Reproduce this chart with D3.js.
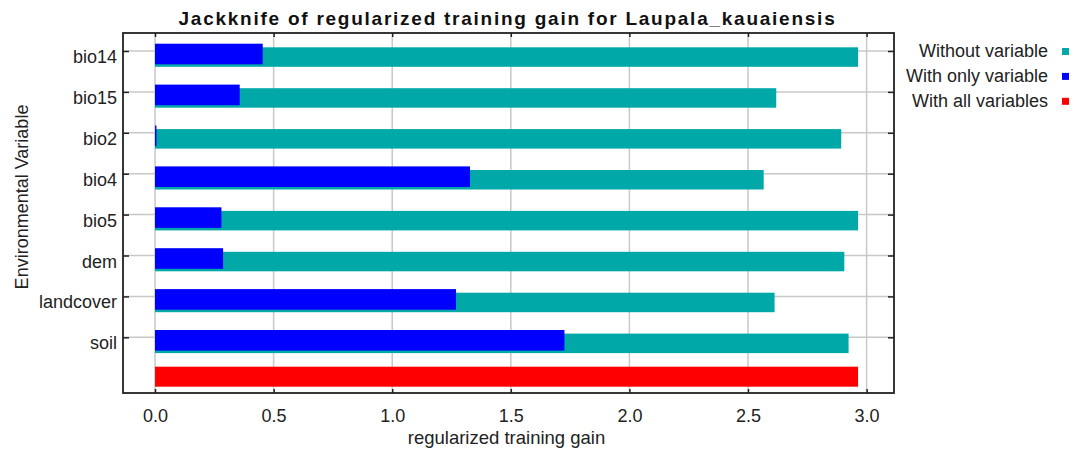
<!DOCTYPE html>
<html>
<head>
<meta charset="utf-8">
<script src="https://cdn.jsdelivr.net/npm/d3@7"></script>
<style>
  html, body { margin: 0; padding: 0; background: #fff; }
  svg { display: block; font-family: "Liberation Sans", Arial, sans-serif; }
</style>
</head>
<body>
<svg id="chart" width="1086" height="453"></svg>
<script>
// Jackknife results: regularized training gain per environmental variable
const variables = ["bio14", "bio15", "bio2", "bio4", "bio5", "dem", "landcover", "soil"];
const withoutVariable = [2.964, 2.619, 2.893, 2.566, 2.964, 2.906, 2.612, 2.924];
const withOnlyVariable = [0.454, 0.357, 0.006, 1.328, 0.280, 0.287, 1.269, 1.726];
const withAllVariables = [2.964];
const xTicks = [0.0, 0.5, 1.0, 1.5, 2.0, 2.5, 3.0];
const legendLabels = ["Without variable", "With only variable", "With all variables"];
const seriesColors = ["#00a8a8", "#0000ff", "#ff0000"];

const svg = d3.select("#chart");
const plot = { left: 123, right: 894, top: 33, bottom: 393 };

// x: gain; the plot starts a little before zero and ends a little past 3
const x = d3.scaleLinear().domain([-0.135, 3.1155]).range([plot.left, plot.right]);
// y: one slot per variable plus one slot for the all-variables bar
const rows = variables.concat(["__all__"]);
const y = d3.scalePoint().domain(rows).range([51, 51 + 40.9 * 8]);

const gGrid = svg.append("g");
// vertical grid lines
gGrid.selectAll("line.vx").data(xTicks).join("line")
  .attr("x1", d => x(d)).attr("x2", d => x(d))
  .attr("y1", plot.top).attr("y2", plot.bottom)
  .attr("stroke", "#c8c8c8").attr("stroke-width", 1.5);
// horizontal grid lines at the category ticks
gGrid.selectAll("line.hy").data(variables).join("line")
  .attr("x1", plot.left).attr("x2", plot.right)
  .attr("y1", d => y(d)).attr("y2", d => y(d))
  .attr("stroke", "#c8c8c8").attr("stroke-width", 1.5);

// bars
const gBars = svg.append("g");
gBars.selectAll("rect.without").data(variables).join("rect")
  .attr("x", x(0))
  .attr("y", d => y(d) - 3.7)
  .attr("width", (d, i) => x(withoutVariable[i]) - x(0))
  .attr("height", 19.5)
  .attr("fill", seriesColors[0]);
gBars.selectAll("rect.only").data(variables).join("rect")
  .attr("x", x(0))
  .attr("y", d => y(d) - 7.3)
  .attr("width", (d, i) => x(withOnlyVariable[i]) - x(0))
  .attr("height", 20.6)
  .attr("fill", seriesColors[1]);
gBars.selectAll("rect.all").data(withAllVariables).join("rect")
  .attr("x", x(0))
  .attr("y", y("__all__") - 11.5)
  .attr("width", d => x(d) - x(0))
  .attr("height", 20)
  .attr("fill", seriesColors[2]);

// axes with inward ticks
const tickColor = "#222";
const gAxes = svg.append("g");
const xBottom = d3.axisBottom(x).tickValues(xTicks).tickSize(-4).tickFormat(d3.format(".1f")).tickPadding(10);
gAxes.append("g").attr("transform", `translate(0,${plot.bottom})`).call(xBottom)
  .call(g => g.select(".domain").remove())
  .call(g => g.selectAll("line").attr("stroke", tickColor).attr("stroke-width", 1.5))
  .call(g => g.selectAll("text").attr("font-size", 18).attr("fill", "#222")
    .attr("font-family", "Liberation Sans, Arial, sans-serif").attr("dy", null).attr("y", 29));
const xTop = d3.axisTop(x).tickValues(xTicks).tickSize(-4).tickFormat("");
gAxes.append("g").attr("transform", `translate(0,${plot.top})`).call(xTop)
  .call(g => g.select(".domain").remove())
  .call(g => g.selectAll("line").attr("stroke", tickColor).attr("stroke-width", 1.5));

const yLeft = d3.axisLeft(y).tickValues(variables).tickSize(-6).tickFormat("");
gAxes.append("g").attr("transform", `translate(${plot.left},0)`).call(yLeft)
  .call(g => g.select(".domain").remove())
  .call(g => g.selectAll("line").attr("stroke", tickColor).attr("stroke-width", 1.5));
const yRight = d3.axisRight(y).tickValues(variables).tickSize(-6).tickFormat("");
gAxes.append("g").attr("transform", `translate(${plot.right},0)`).call(yRight)
  .call(g => g.select(".domain").remove())
  .call(g => g.selectAll("line").attr("stroke", tickColor).attr("stroke-width", 1.5));

// category labels, centred on the bars
svg.append("g").selectAll("text").data(variables).join("text")
  .attr("x", 117)
  .attr("y", d => y(d) + 12)
  .attr("text-anchor", "end")
  .attr("font-size", 18)
  .attr("fill", "#222")
  .text(d => d);

// plot border
svg.append("rect")
  .attr("x", plot.left).attr("y", plot.top)
  .attr("width", plot.right - plot.left).attr("height", plot.bottom - plot.top)
  .attr("fill", "none").attr("stroke", "#222").attr("stroke-width", 1.8);

// title and axis titles
svg.append("text")
  .attr("x", (plot.left + plot.right) / 2 - 1).attr("y", 25)
  .attr("text-anchor", "middle")
  .attr("font-size", 19).attr("font-weight", "bold").attr("fill", "#111")
  .attr("letter-spacing", 1.75)
  .text("Jackknife of regularized training gain for Laupala_kauaiensis");
svg.append("text")
  .attr("x", (plot.left + plot.right) / 2 - 2).attr("y", 444)
  .attr("text-anchor", "middle")
  .attr("font-size", 18.5).attr("fill", "#222")
  .text("regularized training gain");
svg.append("text")
  .attr("transform", "translate(28,197) rotate(-90)")
  .attr("text-anchor", "middle")
  .attr("font-size", 18).attr("fill", "#222")
  .text("Environmental Variable");

// legend
const legend = svg.append("g");
const legendRows = legend.selectAll("g").data(legendLabels).join("g")
  .attr("transform", (d, i) => `translate(0,${57.3 + i * 24.9})`);
legendRows.append("text")
  .attr("x", 1048).attr("y", 0)
  .attr("text-anchor", "end")
  .attr("font-size", 18).attr("fill", "#222")
  .text(d => d);
legendRows.append("rect")
  .attr("x", 1062).attr("y", -9.3)
  .attr("width", 7).attr("height", 7)
  .attr("fill", (d, i) => seriesColors[i]);
</script>
</body>
</html>
